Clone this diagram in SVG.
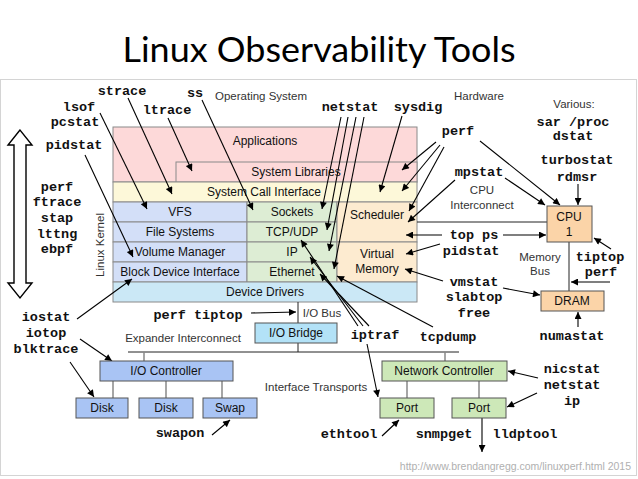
<svg xmlns="http://www.w3.org/2000/svg" width="638" height="479" viewBox="0 0 638 479">
<defs>
<marker id="ah" viewBox="0 0 10 10" refX="10" refY="5" markerWidth="9" markerHeight="7" markerUnits="userSpaceOnUse" orient="auto">
<path d="M0,0 L10,5 L0,10 z" fill="#000"/>
</marker>
<style>
.box{stroke:#8a8a8a;stroke-width:1}
.hw{stroke:#555;stroke-width:1}
.bl{font-family:"Liberation Sans",Arial,sans-serif;font-size:12px;fill:#111;text-anchor:middle}
.sm{font-family:"Liberation Sans",Arial,sans-serif;font-size:11.5px;fill:#333;text-anchor:middle}
.tl{font-family:"Liberation Mono","Courier New",monospace;font-size:13.5px;font-weight:bold;fill:#111;text-anchor:middle}
.ar{stroke:#000;stroke-width:1.1;fill:none;marker-end:url(#ah)}
.ln{stroke:#222;stroke-width:1;fill:none}
.gl{stroke:#888;stroke-width:1.5;fill:none}
</style>
</defs>
<rect width="638" height="479" fill="#fff"/>
<rect x="0.5" y="79.5" width="636" height="396" fill="none" stroke="#d4d4d4"/>
<text x="319" y="62" font-family="Lato,'Open Sans',sans-serif" font-size="34" text-anchor="middle" textLength="393" lengthAdjust="spacingAndGlyphs" fill="#000">Linux Observability Tools</text>

<g id="stack">
<g id="applications"><rect class="box" x="113" y="127" width="304" height="55" fill="#fdd9d9"/><text class="bl" x="265" y="145">Applications</text></g>
<g id="syslibs"><rect class="box" x="176" y="162" width="241" height="20" fill="#fdd9d9"/><text class="bl" x="296" y="176">System Libraries</text></g>
<g id="syscall"><rect class="box" x="113" y="182" width="304" height="20" fill="#fdf8d9"/><text class="bl" x="264" y="196">System Call Interface</text></g>
<g id="vfs"><rect class="box" x="113" y="202" width="134" height="20" fill="#d3dff8"/><text class="bl" x="180" y="216">VFS</text></g>
<g id="fs"><rect class="box" x="113" y="222" width="134" height="20" fill="#d3dff8"/><text class="bl" x="180" y="236">File Systems</text></g>
<g id="volmgr"><rect class="box" x="113" y="242" width="134" height="20" fill="#d3dff8"/><text class="bl" x="180" y="256">Volume Manager</text></g>
<g id="blockdev"><rect class="box" x="113" y="262" width="134" height="20" fill="#d3dff8"/><text class="bl" x="180" y="276">Block Device Interface</text></g>
<g id="sockets"><rect class="box" x="247" y="202" width="90" height="20" fill="#ddedd4"/><text class="bl" x="292" y="216">Sockets</text></g>
<g id="tcpudp"><rect class="box" x="247" y="222" width="90" height="20" fill="#ddedd4"/><text class="bl" x="292" y="236">TCP/UDP</text></g>
<g id="ip"><rect class="box" x="247" y="242" width="90" height="20" fill="#ddedd4"/><text class="bl" x="292" y="256">IP</text></g>
<g id="ethernet"><rect class="box" x="247" y="262" width="90" height="20" fill="#ddedd4"/><text class="bl" x="292" y="276">Ethernet</text></g>
<g id="scheduler"><rect class="box" x="337" y="202" width="80" height="40" fill="#fdebd0"/><text class="bl" x="377" y="219">Scheduler</text></g>
<g id="vm"><rect class="box" x="337" y="242" width="80" height="40" fill="#fdebd0"/><text class="bl" x="377" y="258">Virtual</text><text class="bl" x="377" y="273">Memory</text></g>
<g id="devdrivers"><rect class="box" x="113" y="282" width="304" height="20" fill="#cbe8f6"/><text class="bl" x="265" y="296">Device Drivers</text></g>
</g>

<g id="connectors">
<line class="ln" x1="417" y1="222" x2="547" y2="222"/>
<line class="ln" x1="569" y1="242" x2="569" y2="291"/>
<line class="ln" x1="298" y1="302" x2="298" y2="352"/>
<line class="ln" x1="128" y1="352" x2="459" y2="352"/>
<line class="gl" x1="144" y1="352" x2="144" y2="361"/>
<line class="gl" x1="445" y1="352" x2="445" y2="361"/>
<line class="gl" x1="113" y1="381" x2="113" y2="398"/>
<line class="gl" x1="166" y1="381" x2="166" y2="398"/>
<line class="gl" x1="222" y1="381" x2="222" y2="398"/>
<line class="gl" x1="407" y1="381" x2="407" y2="398"/>
<line class="gl" x1="479" y1="381" x2="479" y2="398"/>
<path d="M20,130 L8,145 L14,145 L14,283 L8,283 L20,298 L32,283 L26,283 L26,145 L32,145 Z" fill="#fff" stroke="#000" stroke-width="1.4"/>
<line class="ar" x1="128" y1="98" x2="172" y2="194"/>
<line class="ar" x1="202" y1="100" x2="253" y2="210"/>
<line class="ar" x1="100" y1="113" x2="147" y2="209"/>
<line class="ar" x1="168" y1="118" x2="192" y2="171"/>
<line class="ar" x1="85" y1="155" x2="133" y2="257"/>
<line class="ar" x1="341" y1="117" x2="322" y2="209"/>
<line class="ar" x1="348" y1="117" x2="327" y2="230"/>
<line class="ar" x1="356" y1="117" x2="329" y2="251"/>
<line class="ar" x1="364" y1="117" x2="334" y2="269"/>
<line class="ar" x1="402" y1="116" x2="380" y2="192"/>
<line class="ar" x1="436" y1="142" x2="402" y2="170"/>
<line class="ar" x1="440" y1="145" x2="402" y2="191"/>
<line class="ar" x1="444" y1="147" x2="409" y2="211"/>
<line class="ar" x1="455" y1="180" x2="408" y2="222"/>
<line class="ar" x1="480" y1="141" x2="560" y2="205"/>
<line class="ar" x1="505" y1="178" x2="545" y2="205"/>
<line class="ar" x1="578" y1="184" x2="578" y2="205"/>
<line class="ar" x1="442" y1="235" x2="406" y2="235"/>
<line class="ar" x1="503" y1="235" x2="546" y2="235"/>
<line class="ar" x1="440" y1="244" x2="406" y2="254"/>
<line class="ar" x1="443" y1="281" x2="405" y2="269"/>
<line class="ar" x1="503" y1="288" x2="540" y2="295"/>
<line class="ar" x1="611" y1="249" x2="594" y2="238"/>
<line class="ar" x1="610" y1="282" x2="571" y2="282"/>
<line class="ar" x1="578" y1="327" x2="578" y2="312"/>
<line class="ar" x1="358" y1="326" x2="301" y2="240"/>
<line class="ar" x1="363" y1="326" x2="310" y2="257"/>
<line class="ar" x1="369" y1="326" x2="320" y2="274"/>
<line class="ar" x1="367" y1="344" x2="378" y2="397"/>
<line class="ar" x1="433" y1="327" x2="337" y2="276"/>
<line class="ar" x1="251" y1="313" x2="296" y2="312"/>
<line class="ar" x1="77" y1="319" x2="132" y2="279"/>
<line class="ar" x1="80" y1="339" x2="112" y2="361"/>
<line class="ar" x1="70" y1="362" x2="94" y2="397"/>
<line class="ar" x1="212" y1="435" x2="230" y2="420"/>
<line class="ar" x1="538" y1="378" x2="508" y2="371"/>
<line class="ar" x1="537" y1="393" x2="507" y2="407"/>
<line class="ar" x1="382" y1="436" x2="399" y2="420"/>
<line class="ar" x1="482" y1="418" x2="482" y2="452"/>
</g>

<g id="cpu"><rect class="hw" x="547" y="206" width="45" height="36" fill="#fbd4a8"/><text class="bl" x="569" y="221">CPU</text><text class="bl" x="569" y="236">1</text></g>
<g id="dram"><rect class="hw" x="541" y="291" width="63" height="20" fill="#fbd4a8"/><text class="bl" x="572" y="305">DRAM</text></g>
<g id="iobridge"><rect class="hw" x="255" y="323" width="82" height="20" fill="#b3e2f7"/><text class="bl" x="296" y="337">I/O Bridge</text></g>
<g id="iocontroller"><rect class="hw" x="100" y="361" width="133" height="20" fill="#a9c4f4"/><text class="bl" x="166" y="375">I/O Controller</text></g>
<g id="disk1"><rect class="hw" x="76" y="398" width="52" height="20" fill="#a9c4f4"/><text class="bl" x="102" y="412">Disk</text></g>
<g id="disk2"><rect class="hw" x="139" y="398" width="54" height="20" fill="#a9c4f4"/><text class="bl" x="166" y="412">Disk</text></g>
<g id="swap"><rect class="hw" x="203" y="398" width="54" height="20" fill="#a9c4f4"/><text class="bl" x="230" y="412">Swap</text></g>
<g id="netcontroller"><rect class="hw" x="382" y="361" width="125" height="20" fill="#cde8b8"/><text class="bl" x="444" y="375">Network Controller</text></g>
<g id="port1"><rect class="hw" x="380" y="398" width="54" height="20" fill="#cde8b8"/><text class="bl" x="407" y="412">Port</text></g>
<g id="port2"><rect class="hw" x="452" y="398" width="54" height="20" fill="#cde8b8"/><text class="bl" x="479" y="412">Port</text></g>

<g id="labels">
<text class="sm" x="261" y="100">Operating System</text>
<text class="sm" x="479" y="100">Hardware</text>
<text class="sm" x="574" y="108">Various:</text>
<text class="sm" x="482" y="194">CPU</text>
<text class="sm" x="482" y="209">Interconnect</text>
<text class="sm" x="540" y="261">Memory</text>
<text class="sm" x="540" y="275">Bus</text>
<text class="sm" x="322" y="317">I/O Bus</text>
<text class="sm" x="183" y="342">Expander Interconnect</text>
<text class="sm" x="316" y="391">Interface Transports</text>
<text class="sm" x="0" y="0" transform="translate(104,245) rotate(-90)">Linux Kernel</text>
<text x="631" y="470" font-family="'Liberation Sans',Arial,sans-serif" font-size="10.5" fill="#b0b0b0" text-anchor="end">http://www.brendangregg.com/linuxperf.html 2015</text>
</g>

<g id="tools">
<text class="tl" x="122" y="95">strace</text>
<text class="tl" x="195" y="97">ss</text>
<text class="tl" x="79" y="111">lsof</text>
<text class="tl" x="75" y="126">pcstat</text>
<text class="tl" x="167" y="114">ltrace</text>
<text class="tl" x="74" y="149">pidstat</text>
<text class="tl" x="57" y="191">perf</text>
<text class="tl" x="57" y="206">ftrace</text>
<text class="tl" x="57" y="222">stap</text>
<text class="tl" x="57" y="238">lttng</text>
<text class="tl" x="57" y="253">ebpf</text>
<text class="tl" x="350" y="111">netstat</text>
<text class="tl" x="418" y="111">sysdig</text>
<text class="tl" x="458" y="135">perf</text>
<text class="tl" x="573" y="126">sar /proc</text>
<text class="tl" x="573" y="140">dstat</text>
<text class="tl" x="577" y="164">turbostat</text>
<text class="tl" x="577" y="181">rdmsr</text>
<text class="tl" x="479" y="176">mpstat</text>
<text class="tl" x="474" y="239">top ps</text>
<text class="tl" x="471" y="255">pidstat</text>
<text class="tl" x="600" y="261">tiptop</text>
<text class="tl" x="601" y="276">perf</text>
<text class="tl" x="474" y="286">vmstat</text>
<text class="tl" x="474" y="301">slabtop</text>
<text class="tl" x="474" y="317">free</text>
<text class="tl" x="572" y="340">numastat</text>
<text class="tl" x="375" y="339">iptraf</text>
<text class="tl" x="448" y="341">tcpdump</text>
<text class="tl" x="198" y="319">perf tiptop</text>
<text class="tl" x="46" y="321">iostat</text>
<text class="tl" x="46" y="337">iotop</text>
<text class="tl" x="46" y="353">blktrace</text>
<text class="tl" x="180" y="437">swapon</text>
<text class="tl" x="572" y="373">nicstat</text>
<text class="tl" x="572" y="389">netstat</text>
<text class="tl" x="572" y="405">ip</text>
<text class="tl" x="349" y="438">ethtool</text>
<text class="tl" x="444" y="438">snmpget</text>
<text class="tl" x="525" y="438">lldptool</text>
</g>
</svg>
